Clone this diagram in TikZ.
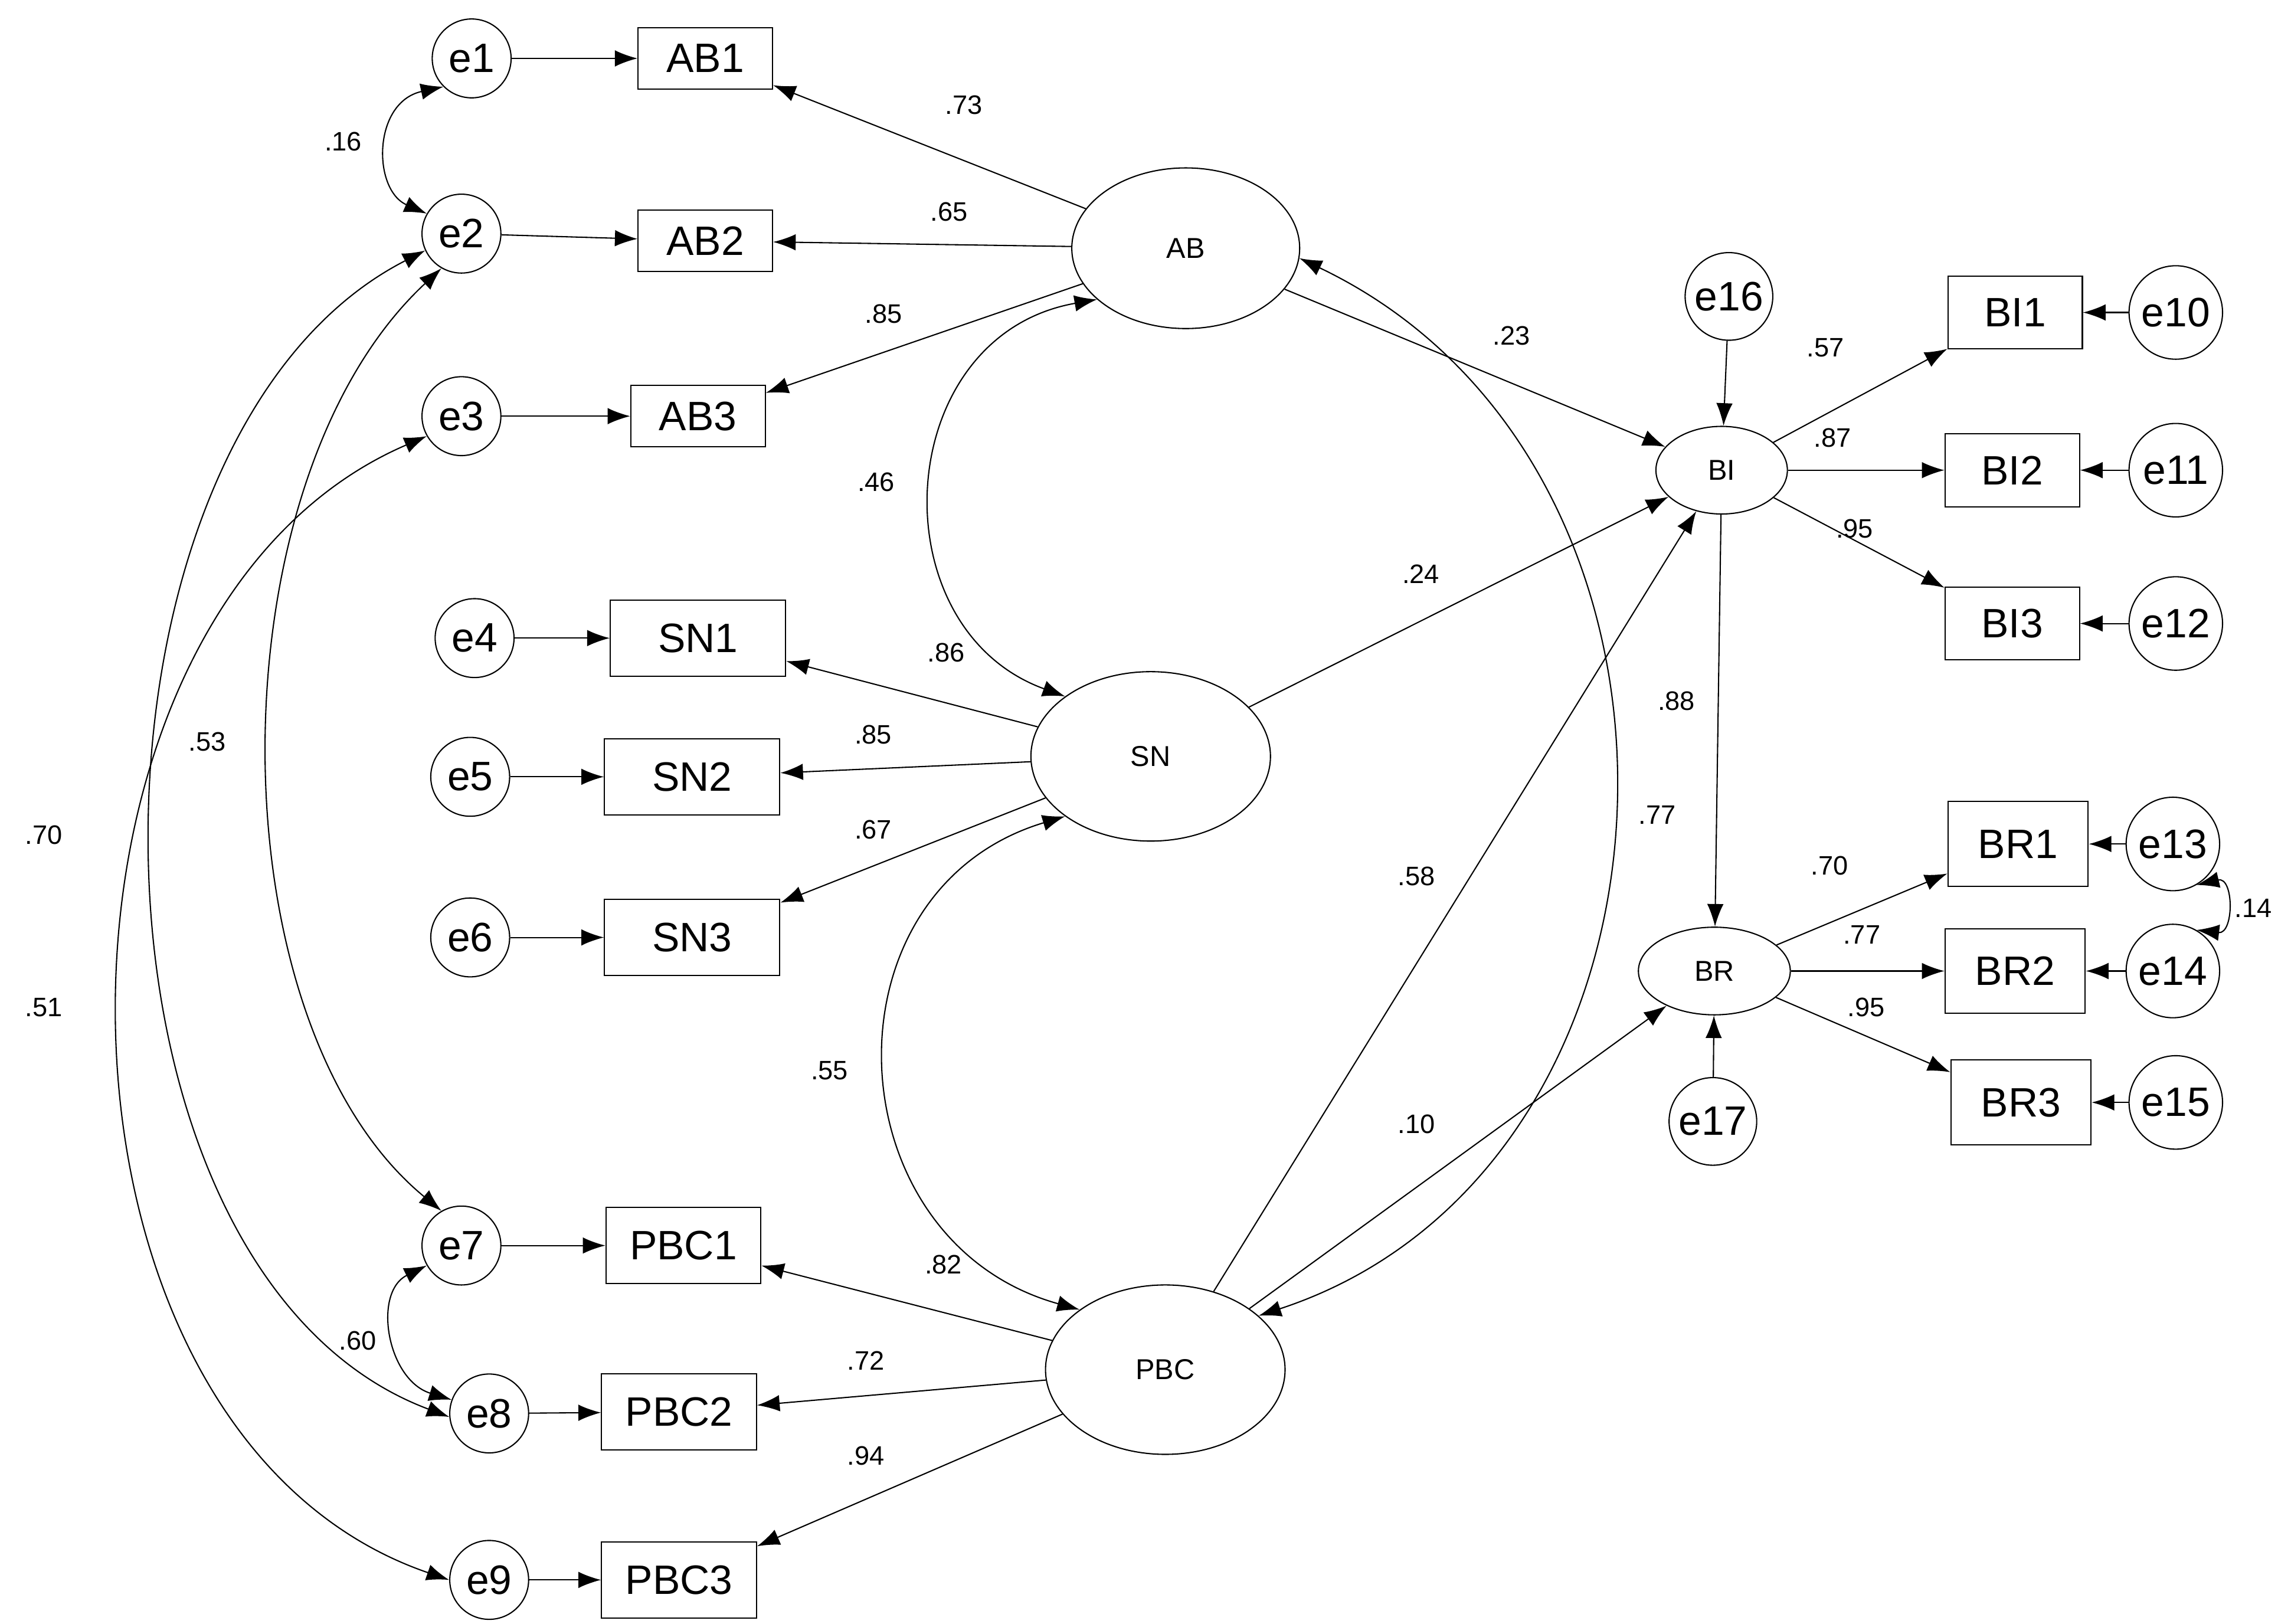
\documentclass[tikz,border=0pt]{standalone}
\usepackage{fontspec}
\setmainfont{Liberation Sans}
\usetikzlibrary{arrows.meta,shapes.geometric}
\begin{document}
\begin{tikzpicture}[x=0.025cm,y=-0.025cm,line width=0.6pt,
 err/.style={circle,draw,minimum size=54\pgflinewidth*0+1.35cm,inner sep=0pt,font=\fontsize{20}{20}\selectfont},
 ind/.style={draw,minimum width=2.3cm,minimum height=1.05cm,inner sep=0pt,font=\fontsize{20}{20}\selectfont},
 lat/.style={ellipse,draw,inner sep=0pt,font=\fontsize{14}{14}\selectfont},
 lab/.style={font=\fontsize{13}{13}\selectfont},
 ar/.style={-{Latex[length=11pt,width=8pt]}},
 dar/.style={{Latex[length=11pt,width=8pt]}-{Latex[length=11pt,width=8pt]}}]
\useasboundingbox (0,0) rectangle (1560,1112);
% error nodes
\node[err] (e1) at (323,40) {e1};
\node[err] (e2) at (316,160) {e2};
\node[err] (e3) at (316,285) {e3};
\node[err] (e4) at (325,437) {e4};
\node[err] (e5) at (322,532) {e5};
\node[err] (e6) at (322,642) {e6};
\node[err] (e7) at (316,853) {e7};
\node[err] (e8) at (335,968) {e8};
\node[err] (e9) at (335,1082) {e9};
\node[err,minimum size=1.5cm] (e16) at (1184,203) {e16};
\node[err,minimum size=1.5cm] (e17) at (1173,768) {e17};
\node[err,minimum size=1.6cm] (e10) at (1490,214) {e10};
\node[err,minimum size=1.6cm] (e11) at (1490,322) {e11};
\node[err,minimum size=1.6cm] (e12) at (1490,427) {e12};
\node[err,minimum size=1.6cm] (e13) at (1488,578) {e13};
\node[err,minimum size=1.6cm] (e14) at (1488,665) {e14};
\node[err,minimum size=1.6cm] (e15) at (1490,755) {e15};
% indicators
\node[ind] (AB1) at (483,40) {AB1};
\node[ind] (AB2) at (483,165) {AB2};
\node[ind] (AB3) at (478,285) {AB3};
\node[ind,minimum width=3cm,minimum height=1.3cm] (SN1) at (478,437) {SN1};
\node[ind,minimum width=3cm,minimum height=1.3cm] (SN2) at (474,532) {SN2};
\node[ind,minimum width=3cm,minimum height=1.3cm] (SN3) at (474,642) {SN3};
\node[ind,minimum width=2.65cm,minimum height=1.3cm] (PBC1) at (468,853) {PBC1};
\node[ind,minimum width=2.65cm,minimum height=1.3cm] (PBC2) at (465,967) {PBC2};
\node[ind,minimum width=2.65cm,minimum height=1.3cm] (PBC3) at (465,1082) {PBC3};
\node[ind,minimum width=2.3cm,minimum height=1.25cm] (BI1) at (1380,214) {BI1};
\node[ind,minimum width=2.3cm,minimum height=1.25cm] (BI2) at (1378,322) {BI2};
\node[ind,minimum width=2.3cm,minimum height=1.25cm] (BI3) at (1378,427) {BI3};
\node[ind,minimum width=2.4cm,minimum height=1.45cm] (BR1) at (1382,578) {BR1};
\node[ind,minimum width=2.4cm,minimum height=1.45cm] (BR2) at (1380,665) {BR2};
\node[ind,minimum width=2.4cm,minimum height=1.45cm] (BR3) at (1384,755) {BR3};
% latents
\node[lat,minimum width=3.9cm,minimum height=2.75cm] (AB) at (812,170) {AB};
\node[lat,minimum width=4.1cm,minimum height=2.9cm] (SN) at (788,518) {SN};
\node[lat,minimum width=4.1cm,minimum height=2.9cm] (PBC) at (798,938) {PBC};
\node[lat,minimum width=2.25cm,minimum height=1.5cm] (BI) at (1179,322) {BI};
\node[lat,minimum width=2.6cm,minimum height=1.5cm] (BR) at (1174,665) {BR};
% error arrows
\foreach \a/\b in {e1/AB1,e2/AB2,e3/AB3,e4/SN1,e5/SN2,e6/SN3,e7/PBC1,e8/PBC2,e9/PBC3,e10/BI1,e11/BI2,e12/BI3,e13/BR1,e14/BR2,e15/BR3,e16/BI,e17/BR}
  \draw[ar] (\a) -- (\b);
% loadings
\foreach \a/\b in {AB/AB1,AB/AB2,AB/AB3,SN/SN1,SN/SN2,SN/SN3,PBC/PBC1,PBC/PBC2,PBC/PBC3,BI/BI1,BI/BI2,BI/BI3,BR/BR1,BR/BR2,BR/BR3,AB/BI,SN/BI,PBC/BI,PBC/BR,BI/BR}
  \draw[ar] (\a) -- (\b);
% covariances
\draw[dar] (e1.225) .. controls (255,70) and (255,130) .. (e2.150);
\draw[dar] (e7.210) .. controls (255,885) and (265,945) .. (e8.160);
\draw[dar] (e2.205) .. controls (40,300) and (40,870) .. (e8.185);
\draw[dar] (e2.240) .. controls (145,330) and (145,700) .. (e7.120);
\draw[dar] (e3.210) .. controls (10,420) and (10,980) .. (e9.180);
\draw[dar] (AB.210) .. controls (610,230) and (600,430) .. (SN.145);
\draw[dar] (SN.215) .. controls (560,610) and (570,850) .. (PBC.145);
\draw[dar] (AB.355) .. controls (1190,320) and (1170,800) .. (PBC.30);
\draw[dar] (e13.300) .. controls (1530,600) and (1530,640) .. (e14.60);
% labels
\foreach \p/\t in {{(235,97)}/.16,{(245,918)}/.60,{(142,508)}/.53,{(30,572)}/.70,{(30,690)}/.51,
 {(660,72)}/.73,{(650,145)}/.65,{(605,215)}/.85,{(600,330)}/.46,{(648,447)}/.86,{(598,503)}/.85,{(598,568)}/.67,
 {(568,733)}/.55,{(646,866)}/.82,{(593,932)}/.72,{(593,997)}/.94,{(1035,230)}/.23,{(973,393)}/.24,
 {(970,600)}/.58,{(970,770)}/.10,{(1135,558)}/.77,{(1250,238)}/.57,{(1255,300)}/.87,{(1270,362)}/.95,
 {(1148,480)}/.88,{(1253,593)}/.70,{(1275,640)}/.77,{(1278,690)}/.95,{(1543,622)}/.14}
  \node[lab] at \p {\t};
\end{tikzpicture}
\end{document}
